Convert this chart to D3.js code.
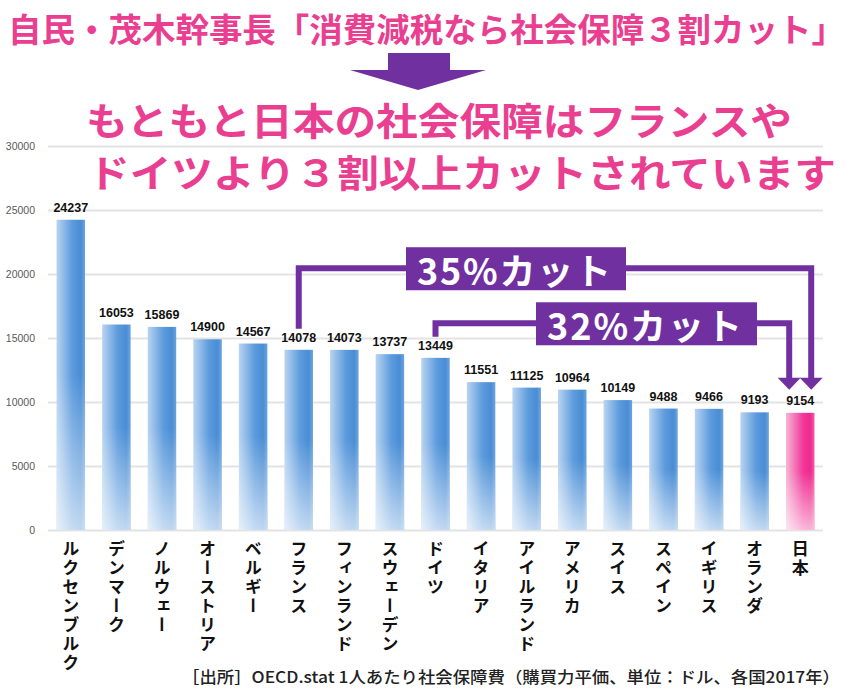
<!DOCTYPE html>
<html>
<head>
<meta charset="utf-8">
<script src="https://cdn.jsdelivr.net/npm/d3@7"></script>
<style>
  body { margin: 0; background: #fff; }
  svg { display: block; font-family: "Noto Sans CJK JP", sans-serif; }
  .axis text { font-family: "Liberation Sans", sans-serif; font-size: 10.5px; fill: #595959; }
  .axis line { stroke: #e3e3e3; stroke-width: 2; }
  .valLabel { font-family: "Liberation Sans", sans-serif; font-weight: bold; font-size: 12.5px; fill: #111; }
  .catLabel { font-size: 17px; font-weight: 700; fill: #111; writing-mode: vertical-rl; letter-spacing: 2px; }
</style>
</head>
<body>
<div id="chart"></div>
<script>
// data: 1人あたり社会保障費 (購買力平価, ドル, 2017年)
const countries = ["ルクセンブルク", "デンマーク", "ノルウェー", "オーストリア", "ベルギー", "フランス",
  "フィンランド", "スウェーデン", "ドイツ", "イタリア", "アイルランド", "アメリカ", "スイス", "スペイン",
  "イギリス", "オランダ", "日本"];
const spending = [24237, 16053, 15869, 14900, 14567, 14078, 14073, 13737, 13449, 11551, 11125, 10964,
  10149, 9488, 9466, 9193, 9154];
const yTicks = [0, 5000, 10000, 15000, 20000, 25000, 30000];
const highlight = "日本";

const data = countries.map((c, i) => ({ country: c, value: spending[i] }));

const width = 852, height = 690;
const pink = "#ea3f91", purple = "#7030a0";

const svg = d3.select("#chart").append("svg").attr("width", width).attr("height", height);

// gradients
const defs = svg.append("defs");
const blue = defs.append("linearGradient").attr("id", "blueGrad").attr("x1", 0).attr("x2", 1).attr("y1", 0).attr("y2", 0);
[["0%", "#b9d4f1"], ["55%", "#5c9bdc"], ["85%", "#4a8dd5"], ["100%", "#6ca4de"]]
  .forEach(s => blue.append("stop").attr("offset", s[0]).attr("stop-color", s[1]));
const pinkG = defs.append("linearGradient").attr("id", "pinkGrad").attr("x1", 0).attr("x2", 1).attr("y1", 0).attr("y2", 0);
[["0%", "#f7b6d4"], ["60%", "#f2389a"], ["85%", "#ee2a8c"], ["100%", "#f25aa5"]]
  .forEach(s => pinkG.append("stop").attr("offset", s[0]).attr("stop-color", s[1]));
const fade = defs.append("linearGradient").attr("id", "fadeGrad").attr("x1", 0).attr("x2", 0).attr("y1", 0).attr("y2", 1);
[["0%", 0], ["50%", 0], ["100%", 0.65]]
  .forEach(s => fade.append("stop").attr("offset", s[0]).attr("stop-color", "#fff").attr("stop-opacity", s[1]));

// scales
const x = d3.scaleBand().domain(countries).range([48, 823]).paddingInner(0.375).paddingOuter(0.1875);
const y = d3.scaleLinear().domain([0, 30000]).range([530, 146]);

// y axis with gridlines
svg.append("g").attr("class", "axis").attr("transform", "translate(48,0)")
  .call(d3.axisLeft(y).tickValues(yTicks).tickFormat(d3.format("d")).tickSize(-(823 - 48)).tickPadding(13))
  .call(g => g.select(".domain").remove());

// bars
const bars = svg.append("g").selectAll("g").data(data).enter().append("g");
bars.append("rect")
  .attr("x", d => x(d.country)).attr("y", d => y(d.value))
  .attr("width", x.bandwidth()).attr("height", d => y(0) - y(d.value))
  .attr("fill", d => d.country === highlight ? "url(#pinkGrad)" : "url(#blueGrad)");
bars.append("rect")
  .attr("x", d => x(d.country)).attr("y", d => y(d.value))
  .attr("width", x.bandwidth()).attr("height", d => y(0) - y(d.value))
  .attr("fill", "url(#fadeGrad)");

// value labels
svg.append("g").selectAll("text").data(data).enter().append("text")
  .attr("class", "valLabel").attr("text-anchor", "middle")
  .attr("x", d => x(d.country) + x.bandwidth() / 2).attr("y", d => y(d.value) - 8)
  .text(d => d.value);

// category labels (vertical)
svg.append("g").selectAll("text").data(data).enter().append("text")
  .attr("class", "catLabel")
  .attr("x", d => x(d.country) + x.bandwidth() / 2).attr("y", 540)
  .text(d => d.country);

// titles
svg.append("text").attr("x", 8).attr("y", 28).attr("dominant-baseline", "central")
  .attr("font-size", 33).attr("font-weight", 700).attr("fill", pink)
  .attr("textLength", 837).attr("lengthAdjust", "spacingAndGlyphs")
  .text("自民・茂木幹事長「消費減税なら社会保障３割カット」");

svg.append("polygon").attr("fill", purple)
  .attr("points", [[388, 53], [450, 53], [450, 70], [486, 70], [418, 90], [350, 70], [388, 70]].join(" "));

svg.append("text").attr("x", 86).attr("y", 118).attr("dominant-baseline", "central")
  .attr("font-size", 38).attr("font-weight", 700).attr("fill", pink)
  .attr("textLength", 706).attr("lengthAdjust", "spacingAndGlyphs")
  .text("もともと日本の社会保障はフランスや");
svg.append("text").attr("x", 88).attr("y", 170).attr("dominant-baseline", "central")
  .attr("font-size", 38).attr("font-weight", 700).attr("fill", pink)
  .attr("textLength", 748).attr("lengthAdjust", "spacingAndGlyphs")
  .text("ドイツより３割以上カットされています");

// cut annotations
const cx = c => x(c) + x.bandwidth() / 2;
const valOf = c => spending[countries.indexOf(c)];
const ann = svg.append("g");

function bracket(from, lineY, box, offset, label) {
  const x0 = cx(from), x1 = cx(highlight) + offset;
  const top = y(valOf(from)) - 21;
  const tip = y(valOf(highlight)) - 23;
  ann.append("path").attr("fill", "none").attr("stroke", purple).attr("stroke-width", 6)
    .attr("stroke-linejoin", "miter")
    .attr("d", `M${x0},${top} V${lineY} H${x1} V${tip - 10}`);
  ann.append("polygon").attr("fill", purple)
    .attr("points", [[x1 - 11.5, tip - 12], [x1 + 11.5, tip - 12], [x1, tip]].join(" "));
  ann.append("rect").attr("fill", purple)
    .attr("x", box[0]).attr("y", lineY - 21).attr("width", box[1] - box[0]).attr("height", 43);
  ann.append("text").attr("x", box[0] + 11).attr("y", lineY + 1).attr("dominant-baseline", "central")
    .attr("font-size", 36).attr("font-weight", 700).attr("fill", "#fff")
    .attr("textLength", box[1] - box[0] - 26).attr("lengthAdjust", "spacing")
    .text(label);
}
bracket("フランス", y(20450), [406, 626], 11, "35%カット");
bracket("ドイツ", y(16150), [536, 757], -11, "32%カット");

// source
svg.append("text").attr("x", 182).attr("y", 676).attr("dominant-baseline", "central")
  .attr("font-size", 16).attr("font-weight", 500).attr("fill", "#222")
  .attr("textLength", 658).attr("lengthAdjust", "spacingAndGlyphs")
  .text("［出所］OECD.stat 1人あたり社会保障費（購買力平価、単位：ドル、各国2017年）");
</script>
</body>
</html>
